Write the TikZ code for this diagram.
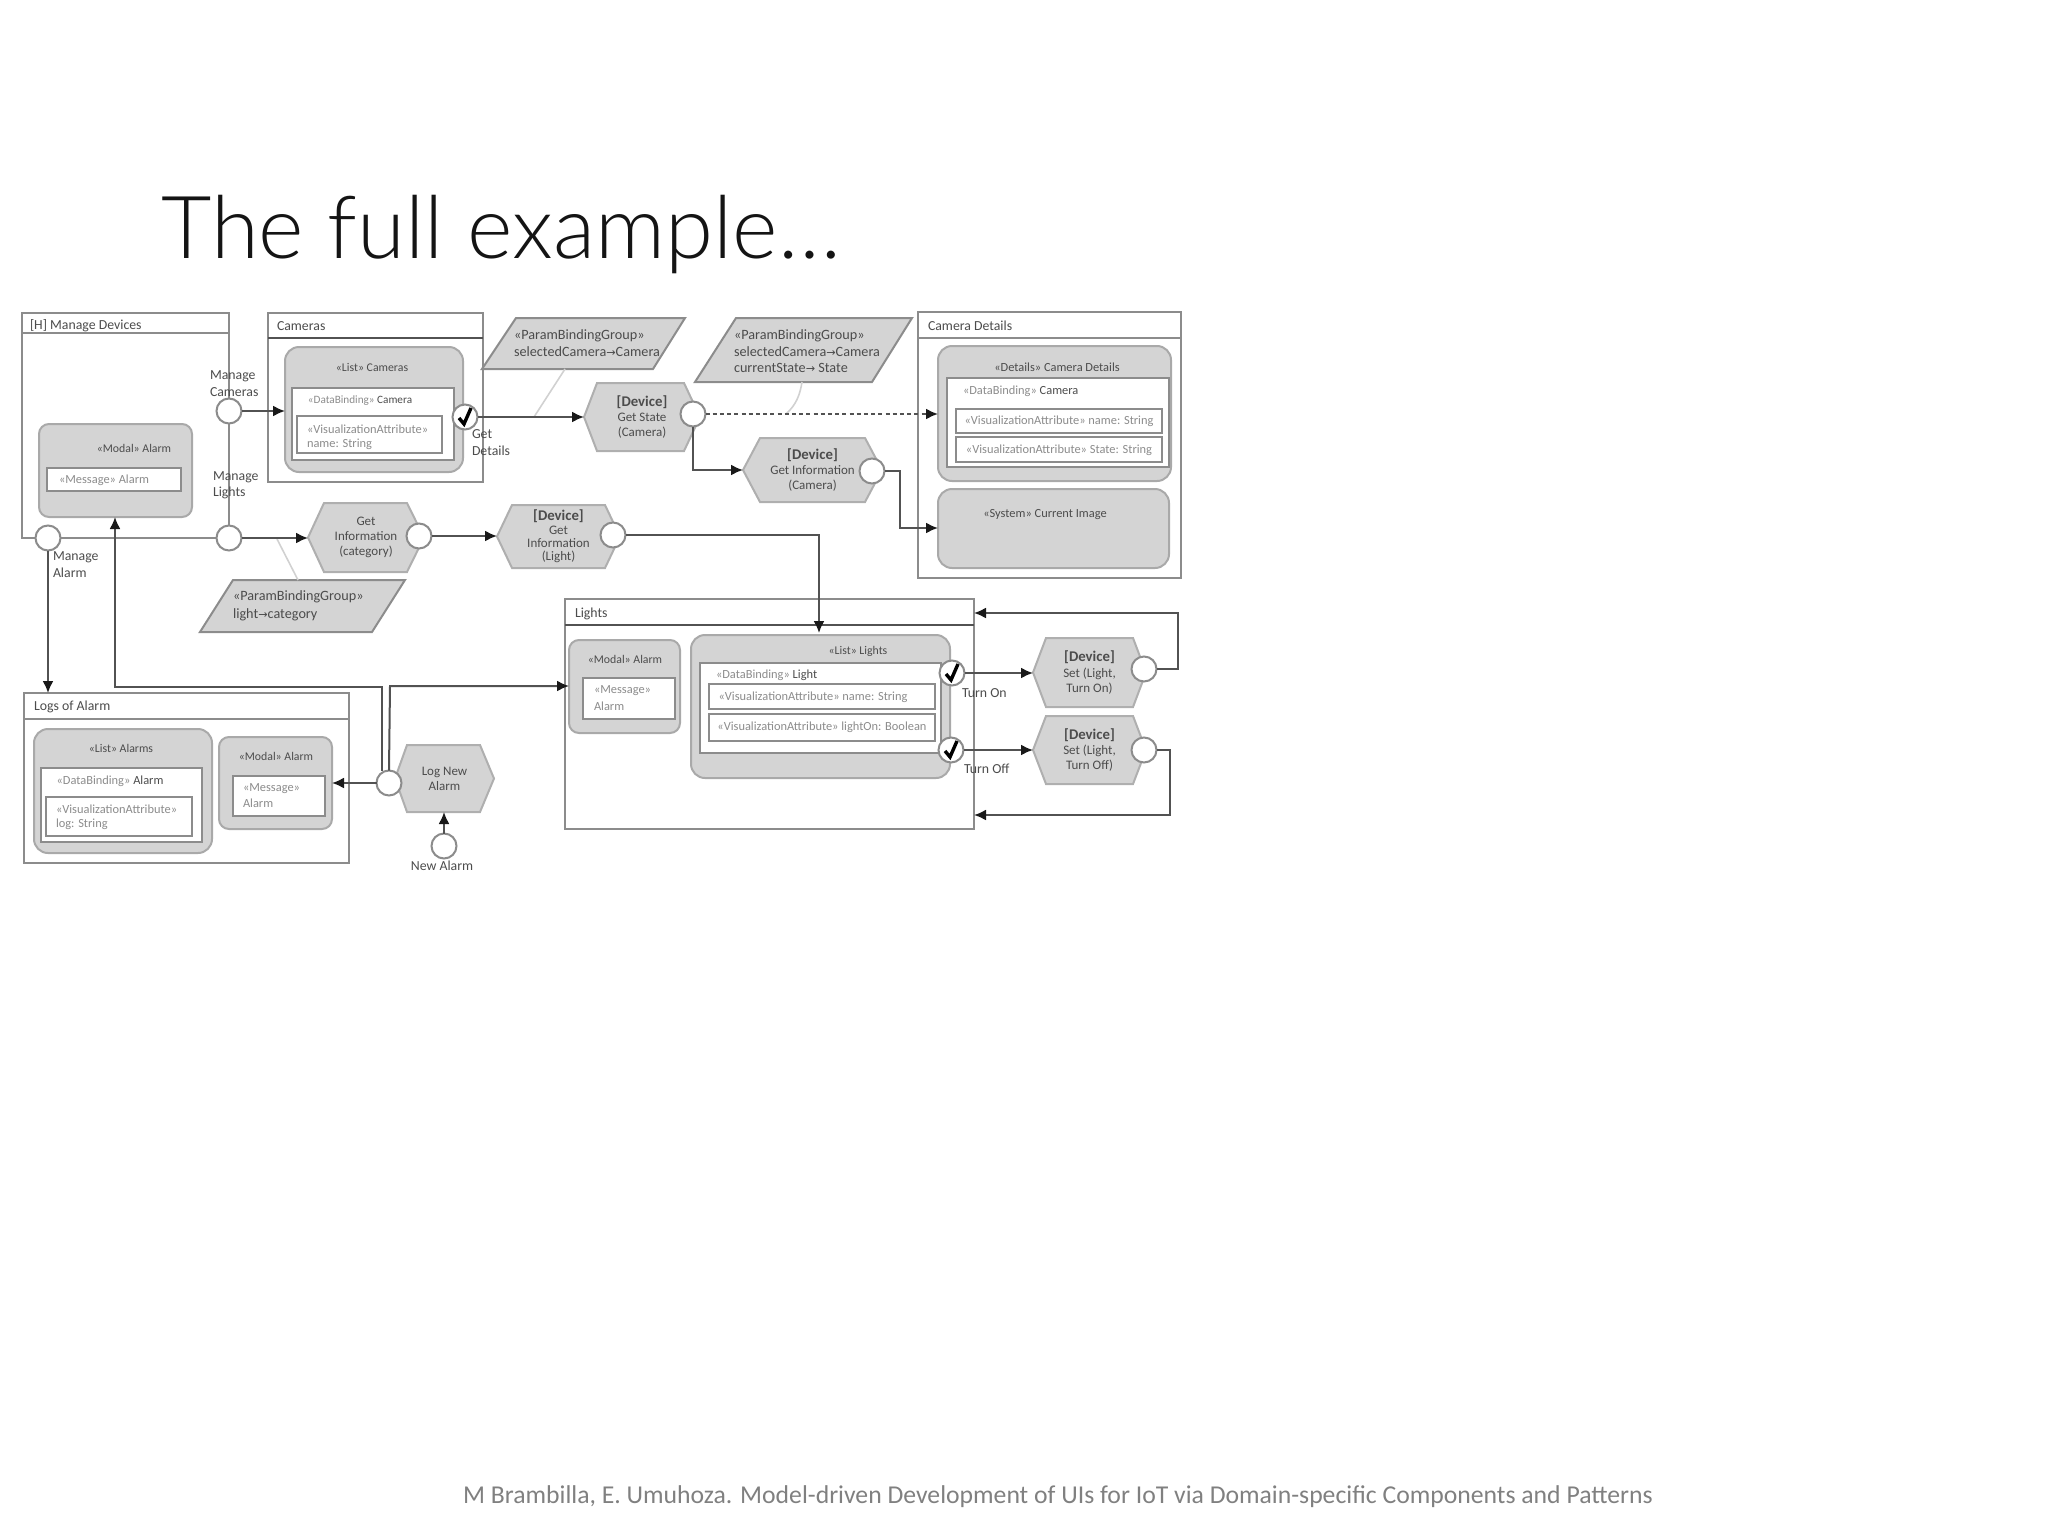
\documentclass[tikz,border=0pt]{standalone}
\usepackage{fontspec}
\setmainfont{Carlito}
\newfontfamily\dej{DejaVu Sans}
\newfontfamily\ttl[UprightFont=* Light]{Lato}
\usetikzlibrary{arrows.meta}
\definecolor{ln}{gray}{0.55}
\definecolor{fl}{gray}{0.83}
\definecolor{tx}{gray}{0.30}
\definecolor{st}{gray}{0.55}
\newcommand\ft{\fontsize{5.9}{7.6}\selectfont}
\newcommand\fa{\fontsize{6.2}{7.6}\selectfont}
\newcommand\fb{\fontsize{6.9}{7.6}\selectfont}
\newcommand\fh{\fontsize{6.5}{7.6}\selectfont}
\newcommand\fp{\fontsize{7.1}{7.6}\selectfont}
\newcommand\dv{\textbf{\fontsize{7.4}{7.6}\selectfont [Device]}}
\newcommand\ar{{\dej\fontsize{5.6}{6}\selectfont →}}
\tikzset{
 box/.style={draw=ln,line width=1pt,fill=white,inner sep=0pt,outer sep=0pt},
 rbox/.style={draw=ln!75,line width=1pt,fill=fl,rounded corners=7pt,inner sep=0pt,outer sep=0pt},
 rboxs/.style={rbox,rounded corners=5pt},
 hexfill/.style={draw=ln!70,line width=1pt,fill=fl},
 ghost/.style={inner sep=0pt,outer sep=0pt,align=center,font=\fh,text=tx},
 lab/.style={inner sep=0pt,outer sep=0pt,font=\ft,text=tx,align=left},
 labl/.style={lab,anchor=west},
 head/.style={labl,font=\fb},
 plab/.style={labl,font=\fp},
 stl/.style={lab,anchor=west,text=st,font=\fa},
 stc/.style={lab,text=st,font=\fa},
 port/.style={circle,draw=ln,line width=1pt,fill=white,minimum size=12.5pt,inner sep=0pt,outer sep=0pt},
 conn/.style={draw=black!68,line width=1pt,-{Latex[length=6pt,width=5.5pt,black!90]}},
 wall/.style={draw=ln,line width=1pt},
 hwall/.style={draw=black!68,line width=1.4pt},
 leader/.style={draw=black!18,line width=.8pt},
 dconn/.style={conn,dash pattern=on 2pt off 1.6pt},
 tick/.style={draw=black,line width=1.7pt}
}
\newcommand\bx[6]{%
 \pgfmathsetmacro\bw{(#4-#2)*0.5}\pgfmathsetmacro\bh{(#5-#3)*0.5}%
 \node[#6,minimum width=\bw pt,minimum height=\bh pt] (#1) at ({(#2+#4)/2},{(#3+#5)/2}) {};}
% name x1 xc1 xc2 x2 y1 y2 text
\newcommand\hexa[8]{%
 \filldraw[hexfill] (#2,{(#6+#7)/2}) -- (#3,#6) -- (#4,#6) -- (#5,{(#6+#7)/2}) -- (#4,#7) -- (#3,#7) -- cycle;
 \pgfmathsetmacro\bw{(#5-#2)*0.5}\pgfmathsetmacro\bh{(#7-#6)*0.5}%
 \node[ghost,minimum width=\bw pt,minimum height=\bh pt] (#1) at ({(#2+#5)/2},{(#6+#7)/2}) {#8};}
% name blx tlx trx brx ytop ybot
\newcommand\para[7]{%
 \filldraw[hexfill,draw=ln] (#2,#7) -- (#3,#6) -- (#4,#6) -- (#5,#7) -- cycle;
 \pgfmathsetmacro\bw{(#4-#2)*0.5}\pgfmathsetmacro\bh{(#7-#6)*0.5}%
 \node[ghost,minimum width=\bw pt,minimum height=\bh pt] (#1) at ({(#2+#4)/2},{(#6+#7)/2}) {};}
\newcommand\hdr[3][wall]{\draw[#1] (#2.west |- 0,#3) -- (#2.east |- 0,#3);}
\newcommand\chk[3]{%
 \node[port] (#1) at (#2,#3) {};
 \draw[tick] ([shift={(-6,1)}]#1.center) -- ([shift={(-1,7)}]#1.center) -- ([shift={(6,-9)}]#1.center);}
\begin{document}
\begin{tikzpicture}[x=0.5pt,y=-0.5pt]
\useasboundingbox (0,0) rectangle (2048,1536);
% title and footer
\node[inner sep=0pt,anchor=base west,font=\ttl\fontsize{43.5}{50}\selectfont,text=black!92] (title) at (161,258) {The full example…};
\node[inner sep=0pt,anchor=base,font=\fontsize{12.85}{15}\selectfont,text=black!50] (foot) at (1058,1503) {M Brambilla, E. Umuhoza. Model-driven Development of UIs for IoT via Domain-specific Components and Patterns};

% Manage Devices
\bx{md}{22}{313}{229}{538}{box}\hdr{md}{333}
\node[head] (mdt) at (30,326) {[H] Manage Devices};
\bx{mdm}{39}{424}{192}{517}{rboxs}
\node[lab] (mdmt) at (134,448) {«Modal» Alarm};
\bx{mdmm}{47}{468}{181}{491}{box}
\node[stl] (mdmmt) at (59,480) {«Message» Alarm};

% Cameras
\bx{cam}{268}{313}{483}{482}{box}\hdr[hwall]{cam}{338}
\node[head] (camt) at (277,326) {Cameras};
\bx{caml}{285}{347}{463}{472}{rbox}
\node[lab] (camlt) at (372,367) {«List» Cameras};
\bx{camd}{292}{388}{454}{460}{box}
\node[lab,font=\fontsize{5.6}{7.6}\selectfont] (camdt) at (360,401) {{\color{st}«DataBinding»} Camera};
\bx{camv}{297}{416}{442}{453}{box}
\node[stl] (camv1) at (307,429) {«VisualizationAttribute»};
\node[stl] (camv2) at (307,444) {name: String};

% Camera Details
\bx{cd}{918}{312}{1181}{578}{box}\hdr{cd}{338}
\node[head] (cdt) at (928,326) {Camera Details};
\bx{cdl}{938}{346}{1171}{481}{rbox}
\node[lab,font=\fa] (cdlt) at (1057,367) {«Details» Camera Details};
\bx{cdd}{947}{378}{1169}{467}{box}
\node[labl,font=\fa] (cddt) at (963,391) {{\color{st}«DataBinding»} Camera};
\bx{cdv1}{956}{409}{1162}{433}{box}
\node[stc] (cdv1t) at (1059,421) {«VisualizationAttribute» name: String};
\bx{cdv2}{956}{437}{1162}{462}{box}
\node[stc] (cdv2t) at (1059,450) {«VisualizationAttribute» State: String};
\bx{cds}{938}{489}{1169}{568}{rbox}
\node[lab,font=\fa] (cdst) at (1045,515) {«System» Current Image};

% Lights
\bx{li}{565}{599}{974}{829}{box}\hdr[hwall]{li}{625}
\node[head] (lit) at (575,614) {Lights};
\bx{lim}{569}{640}{680}{733}{rboxs}
\node[lab] (limt) at (625,659) {«Modal» Alarm};
\bx{limm}{583}{678}{675}{719}{box}
\node[stl] (limm1) at (594,691) {«Message»};
\node[stl] (limm2) at (594,706) {Alarm};
\bx{lil}{691}{635}{950}{778}{rbox}
\node[lab] (lilt) at (858,651) {«List» Lights};
\bx{lid}{700}{663}{941}{753}{box}
\node[labl,font=\fa] (lidt) at (716,675) {{\color{st}«DataBinding»} Light};
\bx{liv1}{709}{684}{935}{709}{box}
\node[stc] (liv1t) at (813,697) {«VisualizationAttribute» name: String};
\bx{liv2}{709}{714}{935}{741}{box}
\node[stc] (liv2t) at (822,727) {«VisualizationAttribute» lightOn: Boolean};

% Logs of Alarm
\bx{lo}{24}{693}{349}{863}{box}\hdr{lo}{719}
\node[head] (lot) at (34,707) {Logs of Alarm};
\bx{lol}{34}{729}{212}{853}{rbox}
\node[lab] (lolt) at (121,748) {«List» Alarms};
\bx{lod}{41}{768}{202}{842}{box}
\node[lab,font=\fa] (lodt) at (110,781) {{\color{st}«DataBinding»} Alarm};
\bx{lov}{46}{797}{192}{836}{box}
\node[stl] (lov1) at (56,809) {«VisualizationAttribute»};
\node[stl] (lov2) at (56,824) {log: String};
\bx{lom}{219}{737}{332}{829}{rboxs}
\node[lab] (lomt) at (276,756) {«Modal» Alarm};
\bx{lomm}{233}{776}{325}{816}{box}
\node[stl] (lomm1) at (243,789) {«Message»};
\node[stl] (lomm2) at (243,803) {Alarm};

% parameter groups
\para{pa}{482}{516}{685}{653}{318}{369}
\node[plab] (pa1) at (514,336) {«ParamBindingGroup»};
\node[plab] (pa2) at (514,352) {selectedCamera\ar Camera};
\para{pb}{695}{736}{912}{872}{318}{382}
\node[plab] (pb1) at (734,336) {«ParamBindingGroup»};
\node[plab] (pb2) at (734,352) {selectedCamera\ar Camera};
\node[plab] (pb3) at (734,368) {currentState\ar\ State};
\para{pc}{200}{233}{405}{372}{580}{632}
\node[plab] (pc1) at (233,597) {«ParamBindingGroup»};
\node[plab] (pc2) at (233,615) {light\ar category};

% hexagons
\hexa{hcat}{308}{324}{407}{424}{503}{572}{Get\\Information\\(category)}
\hexa{hlig}{497}{512}{605}{620}{505}{568}{\dv\\[-1pt]Get\\[-1pt]Information\\[-1pt](Light)}
\hexa{hsta}{584}{597}{684}{700}{383}{451}{\dv\\Get State\\(Camera)}
\hexa{hcam}{743}{760}{865}{882}{438}{502}{\dv\\Get Information\\(Camera)}
\hexa{hlog}{395}{407}{480}{494}{745}{812}{Log New\\Alarm}
\hexa{hon}{1033}{1046}{1133}{1146}{638}{707}{\dv\\Set (Light,\\Turn On)}
\hexa{hoff}{1033}{1046}{1133}{1146}{716}{784}{\dv\\Set (Light,\\Turn Off)}

% leaders
\coordinate (lda) at (534,417);
\coordinate (ldb) at (786,414);
\coordinate (ldc) at (277,539);
\draw[leader] (pa.south -| 565,0) -- (lda);
\draw[leader] (pb.south -| 802,0) .. controls (800,395) and (796,405) .. (ldb);
\draw[leader] (ldc) -- (pc.north -| 298,0);

% ports
\node[port] (pcam) at (229,411) {};
\node[port] (plig) at (229,538) {};
\node[port] (palm) at (48,538) {};
\node[port] (pcat) at (419,536) {};
\node[port] (plg) at (613,535) {};
\node[port] (pst) at (693,414) {};
\node[port] (pic) at (872,471) {};
\node[port] (plog) at (389,783) {};
\node[port] (pnew) at (444,846) {};
\node[port] (pon) at (1144,669) {};
\node[port] (poff) at (1144,750) {};
\chk{kcam}{465}{417}
\chk{kon}{952}{673}
\chk{koff}{951}{750}

% connectors
\draw[conn] (pcam.east) -- (pcam.east -| caml.west);
\draw[conn] (plig.east) -- (plig.east -| hcat.west);
\draw[conn] (kcam.east) -- (kcam.east -| hsta.west);
\draw[conn] (pcat.east) -- (pcat.east -| hlig.west);
\draw[dconn] (pst.east) -- (pst.east -| cdl.west);
\draw[conn] (pst.south) |- (hcam.west);
\coordinate (j1) at (900,471);
\coordinate (j2) at (900,528);
\draw[conn] (pic.east) -- (j1) -- (j2) -- (j2 -| cds.west);
\coordinate (j3) at (819,535);
\coordinate (j4) at (819,633);
\draw[conn] (plg.east) -- (j3) -- (j4);
\coordinate (j5) at (48,693);
\draw[conn] (palm.south) -- (j5);
\coordinate (j6) at (382,687);
\coordinate (j7) at (115,687);
\draw[conn] (plog.north -| j6) -- (j6) -- (j7) -- (j7 |- mdm.south);
\coordinate (j8) at (390,686);
\draw[conn] (plog.north) -- (j8) -- (j8 -| lim.west);
\draw[conn] (plog.west) -- (plog.west -| lom.east);
\draw[conn] (pnew.north) -- (pnew.north |- hlog.south);
\draw[conn] (kon.east) -- (kon.east -| hon.west);
\draw[conn] (koff.east) -- (koff.east -| hoff.west);
\coordinate (j9) at (1178,669);
\coordinate (j10) at (1178,613);
\draw[conn] (pon.east) -- (j9) -- (j10) -- (j10 -| li.east);
\coordinate (j11) at (1170,750);
\coordinate (j12) at (1170,815);
\draw[conn] (poff.east) -- (j11) -- (j12) -- (j12 -| li.east);

% port labels
\node[head] (lc1) at (210,376) {Manage};
\node[head] (lc2) at (210,392) {Cameras};
\node[head] (ll1) at (213,477) {Manage};
\node[head] (ll2) at (213,493) {Lights};
\node[head] (la1) at (53,557) {Manage};
\node[head] (la2) at (53,573) {Alarm};
\node[head] (gd1) at (472,434) {Get};
\node[head] (gd2) at (472,451) {Details};
\node[head] (ton) at (962,693) {Turn On};
\node[head] (tof) at (964,769) {Turn Off};
\node[lab,font=\fb] (nal) at (442,866) {New Alarm};
\end{tikzpicture}
\end{document}
